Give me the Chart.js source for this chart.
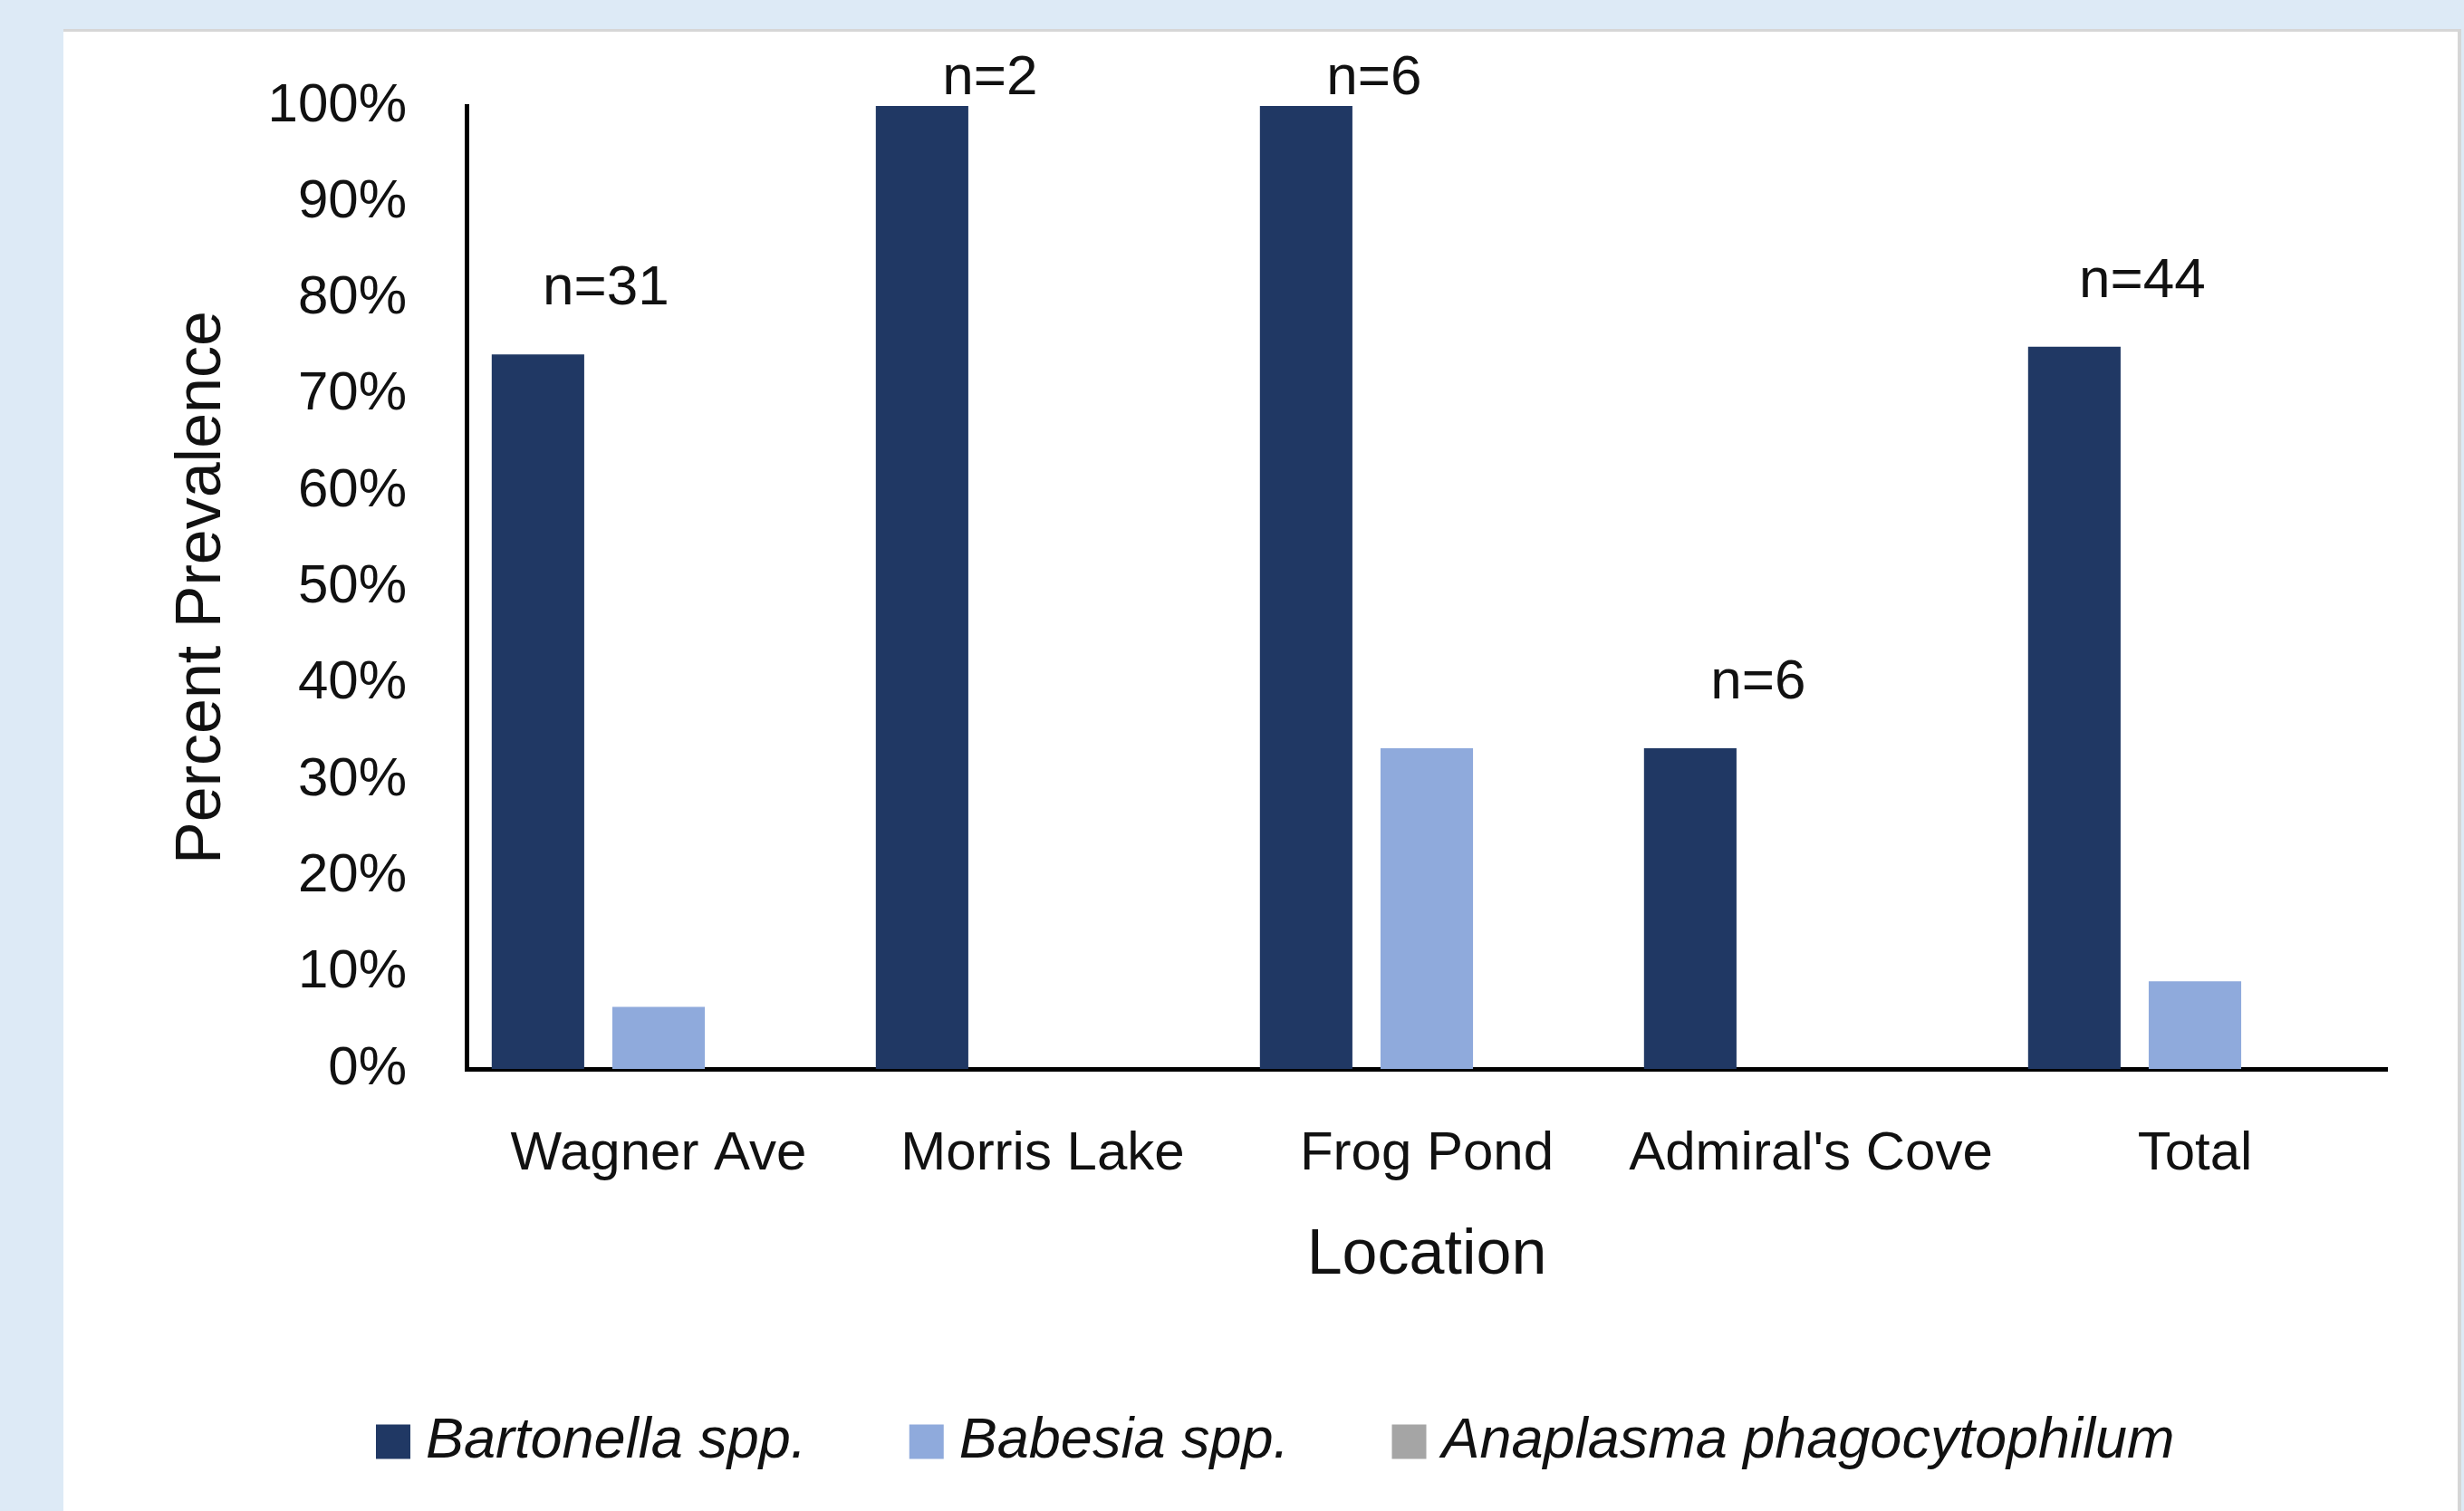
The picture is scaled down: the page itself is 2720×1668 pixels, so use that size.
<!DOCTYPE html>
<html lang="en">

<head>
    <meta charset="UTF-8">
    <title>Percent Prevalence by Location</title>
    <script src="https://cdn.jsdelivr.net/npm/chart.js"></script>
    <style>
        html, body {
            margin: 0;
            padding: 0;
            width: 2720px;
            height: 1668px;
            overflow: hidden;
            background: #DDEAF6;
        }

        .panel {
            position: absolute;
            left: 70px;
            top: 32px;
            width: 2643px;
            height: 1633px;
            background: #ffffff;
            border-top: 3px solid #D6D6D6;
            border-right: 4px solid #D6D6D6;
        }

        canvas {
            display: block;
        }
    </style>
</head>

<body>
    <div class="panel">
        <canvas id="prevalenceChart" width="2643" height="1633"></canvas>
    </div>

    <script>
        // data (percent of ticks positive)
        const locations = ['Wagner Ave', 'Morris Lake', 'Frog Pond', "Admiral's Cove", 'Total'];
        const sampleSizes = ['n=31', 'n=2', 'n=6', 'n=6', 'n=44'];
        const bartonella = [74.2, 100, 100, 33.3, 75.0];
        const babesia = [6.45, 0, 33.3, 0, 9.09];
        const anaplasma = [0, 0, 0, 0, 0];
        const yTicks = [0, 10, 20, 30, 40, 50, 60, 70, 80, 90, 100];

        const FONT = "'Liberation Sans', Arial, sans-serif";
        const TEXT = '#111111';

        // n= labels, placed above the Bartonella bar of each location
        const sampleLabels = {
            id: 'sampleLabels',
            afterDatasetsDraw(chart) {
                const ctx = chart.ctx;
                const meta = chart.getDatasetMeta(0);
                ctx.save();
                ctx.font = '62px ' + FONT;
                ctx.fillStyle = TEXT;
                ctx.textAlign = 'center';
                ctx.textBaseline = 'middle';
                meta.data.forEach((bar, i) => {
                    const y = Math.max(bar.y - 72, chart.chartArea.top - 30);
                    ctx.fillText(sampleSizes[i], bar.x + 75, y);
                });
                ctx.restore();
            }
        };

        const ctx = document.getElementById('prevalenceChart').getContext('2d');
        const prevalenceChart = new Chart(ctx, {
            type: 'bar',
            data: {
                labels: locations,
                datasets: [
                    { label: 'Bartonella spp.', data: bartonella, backgroundColor: '#203864' },
                    { label: 'Babesia spp.', data: babesia, backgroundColor: '#8FAADC' },
                    { label: 'Anaplasma phagocytophilum', data: anaplasma, backgroundColor: '#A5A5A5' }
                ]
            },
            options: {
                responsive: false,
                animation: false,
                categoryPercentage: 0.942,
                barPercentage: 0.767,
                layout: {
                    padding: { top: 82, right: 78, bottom: 35, left: 125 }
                },
                plugins: {
                    legend: {
                        position: 'bottom',
                        labels: {
                            usePointStyle: true,
                            pointStyle: 'rect',
                            boxWidth: 9,   // narrow slot so the text sits close to the square
                            boxHeight: 38,
                            padding: 128,
                            color: TEXT,
                            font: { family: FONT, size: 63, style: 'italic' }
                        }
                    },
                    tooltip: { enabled: false }
                },
                scales: {
                    x: {
                        grid: { display: false, drawTicks: false },
                        border: { display: true, color: '#000000', width: 5 },
                        ticks: {
                            color: TEXT,
                            padding: 58,
                            font: { family: FONT, size: 60 }
                        },
                        title: {
                            display: true,
                            text: 'Location',
                            color: TEXT,
                            padding: { top: 0, bottom: 3 },
                            font: { family: FONT, size: 70 }
                        },
                        afterFit(scale) {
                            scale.height = 252;
                        }
                    },
                    y: {
                        min: 0,
                        max: 100,
                        grid: { display: false, drawTicks: false },
                        border: { display: true, color: '#000000', width: 5 },
                        afterBuildTicks(scale) {
                            scale.ticks = yTicks.map(v => ({ value: v }));
                        },
                        ticks: {
                            color: TEXT,
                            padding: 66,
                            font: { family: FONT, size: 60 },
                            callback: v => v + '%'
                        },
                        title: {
                            display: true,
                            text: 'Percent Prevalence',
                            color: TEXT,
                            padding: { top: -13, bottom: 0 },
                            font: { family: FONT, size: 70 }
                        },
                        afterFit(scale) {
                            scale.width = 320;
                            scale.paddingTop = 0;
                            scale.paddingBottom = 0;
                        }
                    }
                }
            },
            plugins: [sampleLabels]
        });
    </script>
</body>

</html>
